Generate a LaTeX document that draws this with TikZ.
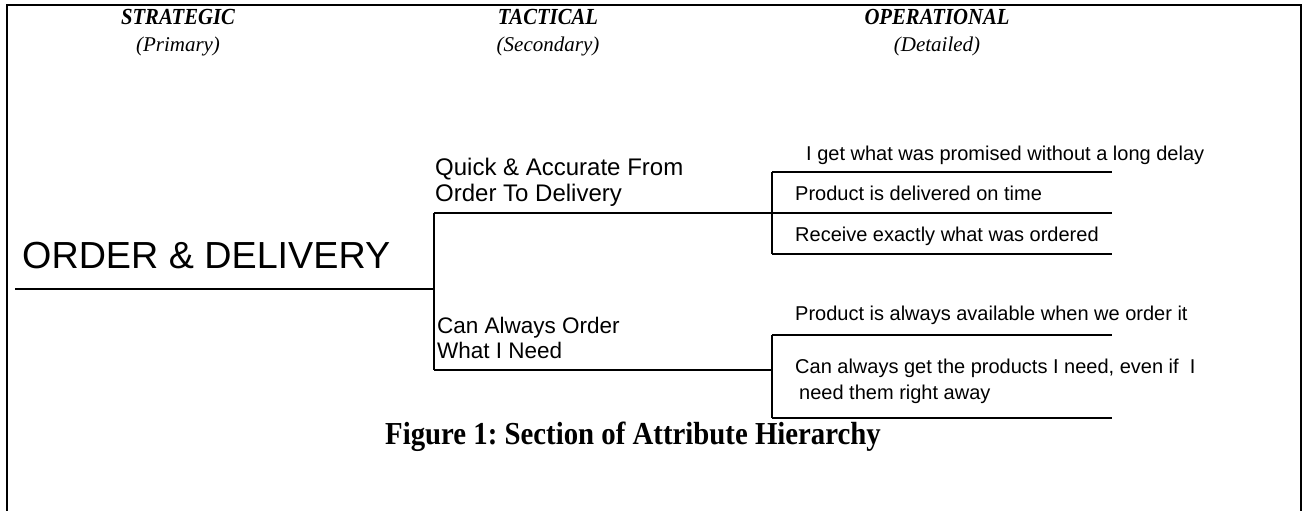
\documentclass[tikz,border=0pt]{standalone}
\usepackage{fontspec}
\setmainfont{Liberation Serif}
\newfontfamily\arialfont{Liberation Sans}
\newfontfamily\headfont[FakeStretch=0.9]{Liberation Serif}
\usepackage{tikz}
\usetikzlibrary{positioning}

\begin{document}
\frenchspacing
\begin{tikzpicture}[
    x=1pt, y=-1pt,
    heading/.style={font=\headfont\fontsize{23}{26}\selectfont\bfseries\itshape, inner sep=0pt},
    subheading/.style={font=\fontsize{21}{24}\selectfont\itshape, inner sep=0pt},
    primary/.style={font=\arialfont\fontsize{37.7}{40}\selectfont, inner sep=0pt, anchor=base west},
    secondary/.style={font=\arialfont\fontsize{24}{25.5}\selectfont, inner sep=0pt, align=left, anchor=north west},
    detail/.style={font=\arialfont\fontsize{20}{27}\selectfont, inner sep=0pt, anchor=base west},
    branch/.style={line width=1.6pt},
    caption/.style={font=\headfont\fontsize{32}{34}\selectfont\bfseries, inner sep=0pt}
]
    \useasboundingbox (0,0) rectangle (1306,511);

    % Frame (open at the bottom)
    \draw[line width=2pt] (7,511) -- (7,5) -- (1301,5) -- (1301,511);

    % Column headings
    \node[heading] (strategic) at (178,17) {STRATEGIC};
    \node[subheading] (primaryhd) at (178,46) {(Primary)};
    \node[heading] (tactical) at (548,17) {TACTICAL};
    \node[subheading] (secondaryhd) at (548,46) {(Secondary)};
    \node[heading] (operational) at (937,17) {OPERATIONAL};
    \node[subheading] (detailedhd) at (937,46) {(Detailed)};

    % Strategic attribute
    \node[primary] (orderdelivery) at (22,268) {ORDER \& DELIVERY};
    \coordinate (rootstart) at (15,289);
    \coordinate (fork) at (434,289);

    % Tactical attributes
    \node[secondary] (quick) at (435,158) {Quick \& Accurate From\\Order To Delivery};
    \node[secondary, font=\arialfont\fontsize{22.5}{25.5}\selectfont] (canorder) at (437,316.5) {Can Always Order\\What I Need};
    \coordinate (quickfork) at (434,213);
    \coordinate (canfork) at (434,370);
    \coordinate (quickgrp) at (772,213);
    \coordinate (cangrp) at (772,370);

    % Operational attributes, first group
    \node[detail] (promised) at (806,160) {I get what was promised without a long delay};
    \node[detail] (ontime) at (795,200) {Product is delivered on time};
    \node[detail] (exactly) at (795,241) {Receive exactly what was ordered};
    \coordinate (g1top) at (772,172);
    \coordinate (g1mid) at (1112,213);
    \coordinate (g1bot) at (772,254);

    % Operational attributes, second group
    \node[detail] (available) at (795,320) {Product is always available when we order it};
    \node[detail, anchor=north west, align=left, font=\arialfont\fontsize{20}{26}\selectfont] (rightaway) at (795,359)
        {Can always get the products I need, even if\ \ I\\\hspace*{4pt}need them right away};
    \coordinate (g2top) at (772,335);
    \coordinate (g2bot) at (772,418);

    % Lines
    \draw[branch] (rootstart) -- (fork);
    \draw[branch] (quickfork) -- (canfork);
    \draw[branch] (quickfork) -- (g1mid);
    \draw[branch] (canfork) -- (cangrp);
    \draw[branch] (g1top) -- (g1bot);
    \draw[branch] (g1top) -- ++(340,0);
    \draw[branch] (g1bot) -- ++(340,0);
    \draw[branch] (g2top) -- (g2bot);
    \draw[branch] (g2top) -- ++(340,0);
    \draw[branch] (g2bot) -- ++(340,0);

    % Caption
    \node[caption] (figcaption) at (633,437) {Figure 1: Section of Attribute Hierarchy};
\end{tikzpicture}
\end{document}
